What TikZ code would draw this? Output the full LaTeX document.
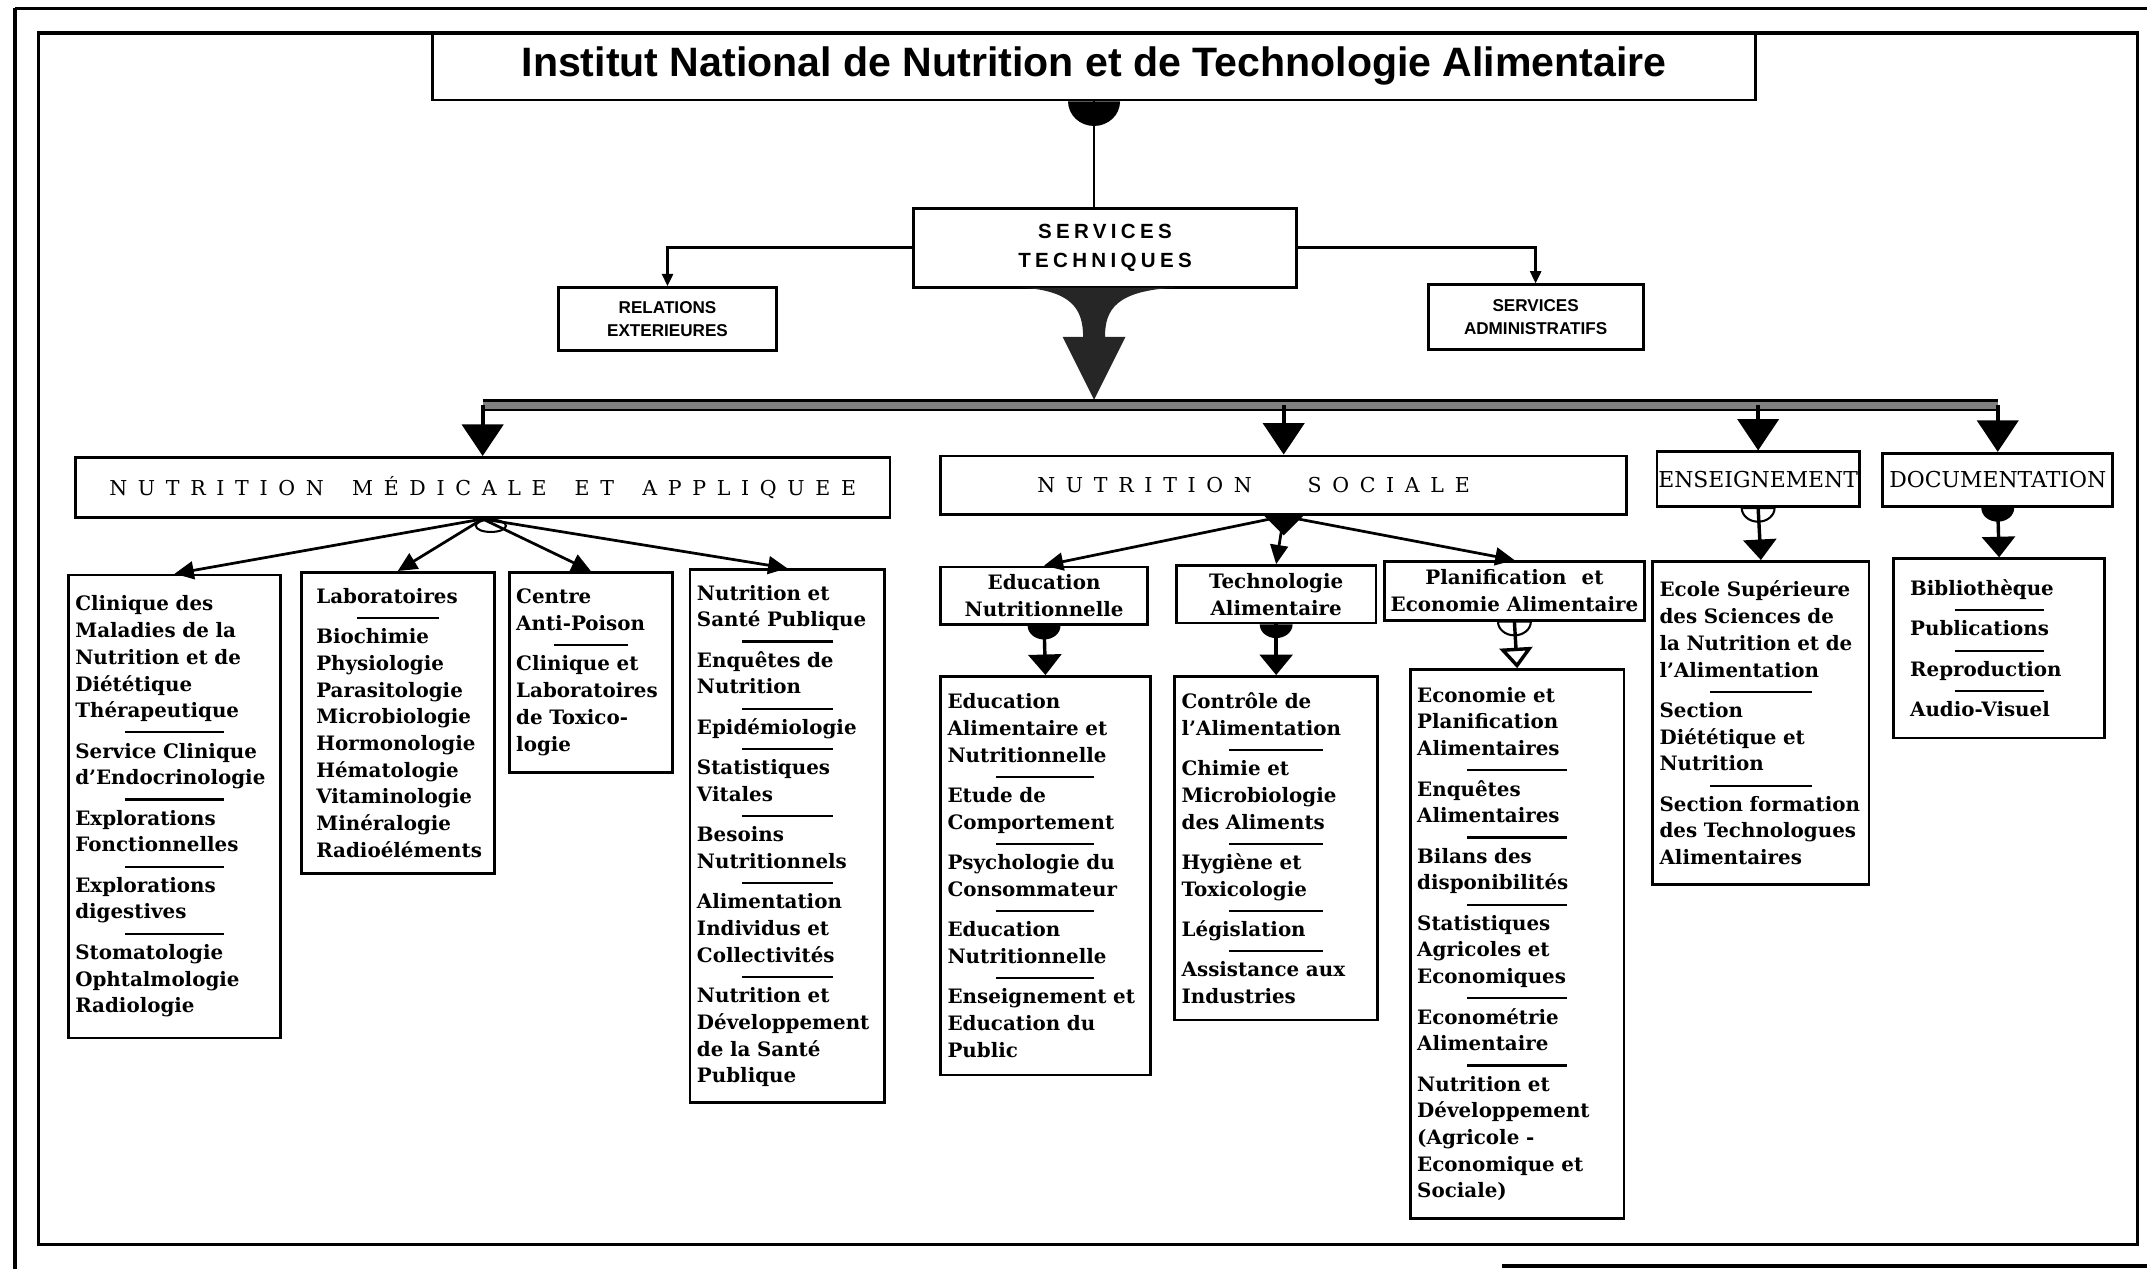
\documentclass[tikz,border=0pt]{standalone}
\usepackage{fontspec}
\setmainfont{DejaVu Serif}
\newfontfamily\titlefont{Liberation Sans}
\newfontfamily\techfont[LetterSpace=21]{Liberation Sans}
\newfontfamily\capsfont[LetterSpace=52]{DejaVu Serif}
\usetikzlibrary{positioning, calc, arrows.meta}
\newcommand{\sepbar}{\par\vspace{-8pt}{\centering\rule{0.5\linewidth}{1.5pt}\par}\vspace{-1.5pt}}
\newcommand{\knob}[2][fill=black]{\path[#1] (#2) ++(-12,0) arc[start angle=180, end angle=0, x radius=12, y radius=10] -- cycle;}

\begin{document}
\begin{tikzpicture}[x=1pt, y=-1pt,
    box/.style={draw, line width=2pt},
    body/.style={box, align=left, inner xsep=5pt, inner ysep=0pt, font=\bfseries\fontsize{14.5}{19.5}\selectfont},
    head/.style={box, align=center, inner sep=2pt, font=\bfseries\fontsize{14.5}{19.5}\selectfont},
    capbox/.style={box, font=\capsfont\fontsize{15}{18}\selectfont},
    smallbox/.style={box, align=center, font=\titlefont\bfseries\fontsize{12.5}{17}\selectfont},
    feed/.style={line width=3pt, -{Triangle[length=23pt,width=30pt]}},
    fan/.style={line width=2pt, -{Triangle[length=14pt,width=13pt]}},
    drop/.style={line width=2.5pt, -{Triangle[length=15pt,width=24pt]}},
    side/.style={line width=2pt, -{Triangle[length=9pt,width=8pt]}}]
      \useasboundingbox (0,0) rectangle (1568,927);
      \draw[line width=2.5pt] (11,6) -- (1568,6) (11,6) -- (11,927) (1097,924.5) -- (1568,924.5);
      \draw[line width=2.5pt] (28,24) rectangle (1561,909);

      \node[box, minimum width=966pt, minimum height=49pt, font=\titlefont\bfseries\fontsize{30}{34}\selectfont] (title) at (799,48.5) {Institut National de Nutrition et de Technologie Alimentaire};

      \node[box, minimum width=280pt, minimum height=58pt, align=center, font=\techfont\bfseries\fontsize{15}{21}\selectfont] (st) at (807,181) {SERVICES\\TECHNIQUES};
      \node[smallbox, minimum width=159pt, minimum height=46pt] (rel) at (487.5,233) {RELATIONS\\EXTERIEURES};
      \node[smallbox, minimum width=157pt, minimum height=47pt] (adm) at (1121.5,231.5) {SERVICES\\ADMINISTRATIFS};

      \node[capbox, minimum width=595pt, minimum height=44pt] (nma) at (352.5,356) {NUTRITION\hspace{8pt} MÉDICALE\hspace{8pt} ET\hspace{8pt} APPLIQUEE};
      \node[capbox, minimum width=501pt, minimum height=43pt] (ns) at (937.5,354.5) {NUTRITION\hspace{28pt} SOCIALE\hspace*{44pt}};
      \node[box, inner xsep=1pt, minimum width=146pt, minimum height=40pt, font=\fontsize{16}{18}\selectfont] (ens) at (1284,350) {ENSEIGNEMENT};
      \node[box, inner xsep=1pt, minimum width=168pt, minimum height=39pt, font=\fontsize{16}{18}\selectfont] (doc) at (1459,350.5) {DOCUMENTATION};

      \node[body, text width=145pt, minimum height=338pt] (clin) at (127.5,589) {Clinique des\\Maladies de la\\Nutrition et de\\Diététique\\Thérapeutique\sepbar Service Clinique\\d'Endocrinologie\sepbar Explorations\\Fonctionnelles\sepbar Explorations\\digestives\sepbar Stomatologie\\Ophtalmologie\\Radiologie};
      \node[body, text width=119pt, inner xsep=11pt, minimum height=220pt] (labo) at (290.5,528) {Laboratoires\sepbar Biochimie\\Physiologie\\Parasitologie\\Microbiologie\\Hormonologie\\Hématologie\\Vitaminologie\\Minéralogie\\Radioéléments};
      \node[body, text width=109pt, minimum height=146pt] (poison) at (431.5,491) {Centre\\Anti-Poison\sepbar Clinique et\\Laboratoires\\de Toxico-\\logie};
      \node[body, text width=132pt, minimum height=389pt] (sante) at (575,610.5) {Nutrition et\\Santé Publique\sepbar Enquêtes de\\Nutrition\sepbar Epidémiologie\sepbar Statistiques\\Vitales\sepbar Besoins\\Nutritionnels\sepbar Alimentation\\Individus et\\Collectivités\sepbar Nutrition et\\Développement\\de la Santé\\Publique};

      \node[head, minimum width=151pt, minimum height=42pt] (edu) at (762.5,435) {Education\\Nutritionnelle};
      \node[head, minimum width=146pt, minimum height=42pt] (tech) at (932,434) {Technologie\\Alimentaire};
      \node[head, minimum width=190pt, minimum height=43pt] (plan) at (1106,431.5) {Planification\hspace{6pt} et\\Economie Alimentaire};

      \node[body, text width=143pt, minimum height=291pt] (edub) at (763.5,639.5) {Education\\Alimentaire et\\Nutritionnelle\sepbar Etude de\\Comportement\sepbar Psychologie du\\Consommateur\sepbar Education\\Nutritionnelle\sepbar Enseignement et\\Education du\\Public};
      \node[body, text width=138pt, minimum height=251pt] (techb) at (932,619.5) {Contrôle de\\l'Alimentation\sepbar Chimie et\\Microbiologie\\des Aliments\sepbar Hygiène et\\Toxicologie\sepbar Législation\sepbar Assistance aux\\Industries};
      \node[body, text width=146pt, minimum height=401pt] (planb) at (1108,689.5) {Economie et\\Planification\\Alimentaires\sepbar Enquêtes\\Alimentaires\sepbar Bilans des\\disponibilités\sepbar Statistiques\\Agricoles et\\Economiques\sepbar Econométrie\\Alimentaire\sepbar Nutrition et\\Développement\\(Agricole -\\Economique et\\Sociale)};
      \node[body, text width=148pt, minimum height=236pt] (ensb) at (1286,528) {Ecole Supérieure\\des Sciences de\\la Nutrition et de\\l'Alimentation\sepbar Section\\Diététique et\\Nutrition\sepbar Section formation\\des Technologues\\Alimentaires};
      \node[body, text width=130pt, inner xsep=12pt, minimum height=131pt] (docb) at (1460,473.5) {Bibliothèque\sepbar Publications\sepbar Reproduction\sepbar Audio-Visuel};

      \fill (title.south) ++(-19,0) arc[start angle=180, end angle=0, x radius=19, y radius=18] -- cycle;
      \draw[line width=1.5pt] (title.south) -- (title.south |- st.north);
      \draw[side] (st.west) -| (rel.north);
      \draw[side] (st.east) -| (adm.north);
      \fill[black!85] (745,210) .. controls (783,212) and (791,226) .. (791,246) -- (776,246) -- (799,292) -- (822,246) -- (807,246) .. controls (807,226) and (815,212) .. (860,210) -- cycle;

      \coordinate (hub) at (799,296);
      \draw[line width=2pt, double=black!50, double distance=5pt] (nma.north |- hub) -- (doc.north |- hub);
      \draw[feed] (nma.north |- hub) -- (nma.north);
      \draw[feed] (ns.north |- hub) -- (ns.north);
      \draw[feed] (ens.north |- hub) -- (ens.north);
      \draw[feed] (doc.north |- hub) -- (doc.north);

      \draw[line width=1.5pt] ($(nma.south)+(6,5)$) ellipse[x radius=11, y radius=4.5];
      \draw[fan] (nma.south) -- (clin.north);
      \draw[fan] (nma.south) -- (labo.north);
      \draw[fan] (nma.south) -- (poison.north);
      \draw[fan] (nma.south) -- (sante.north);

      \fill (ns.south) ++(-14,0) -- ++(28,0) -- ++(-14,14) -- cycle;
      \draw[fan] (ns.south) -- (edu.north);
      \draw[fan] (ns.south) -- (tech.north);
      \draw[fan] (ns.south) -- (plan.north);

      \knob{edu.south}
      \knob{tech.south}
      \knob[draw, line width=1.5pt]{plan.south}
      \knob[draw, line width=1.5pt]{ens.south}
      \knob{doc.south}
      \draw[drop] (edu.south) -- (edub.north);
      \draw[drop] (tech.south) -- (techb.north);
      \draw[line width=2.5pt, -{Triangle[open, length=15pt, width=24pt]}] (plan.south) -- (planb.north);
      \draw[drop] (ens.south) -- (ensb.north);
      \draw[drop] (doc.south) -- (docb.north);
    \end{tikzpicture}
\end{document}
